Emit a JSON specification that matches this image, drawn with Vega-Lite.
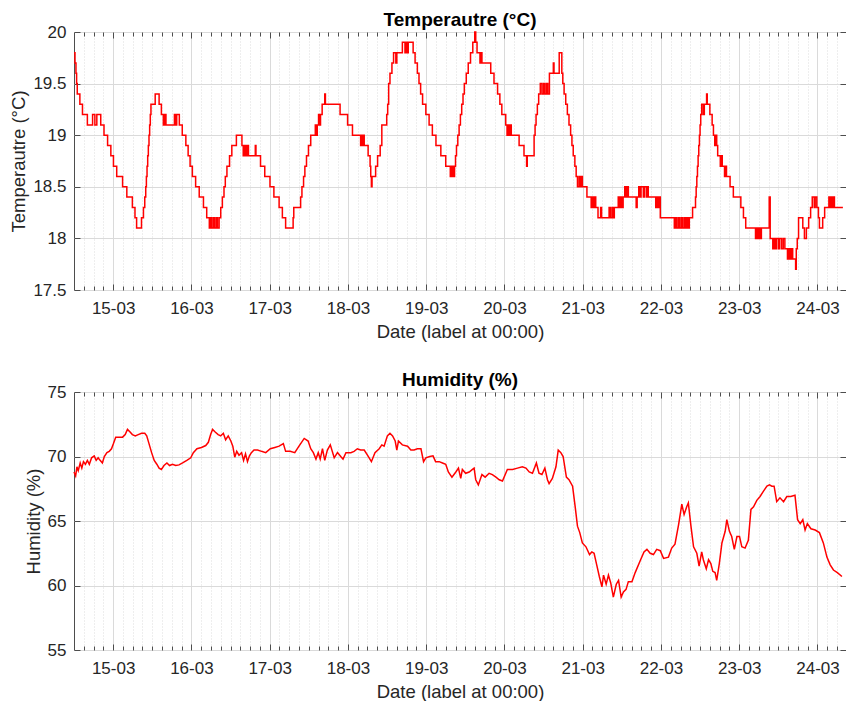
{
  "$schema": "https://vega.github.io/schema/vega-lite/v6.json",
  "background": "white",
  "padding": {"left": 9, "top": 10, "right": 0, "bottom": 0},
  "spacing": 29,
  "config": {
    "font": "Liberation Sans",
    "view": {"stroke": "#4d4d4d", "strokeWidth": 1},
    "axis": {
      "labelColor": "#262626",
      "titleColor": "#262626",
      "labelFontSize": 17,
      "titleFontSize": 18.5,
      "titleFontWeight": "normal",
      "domain": false,
      "tickColor": "#4d4d4d",
      "gridColor": "#dadada"
    },
    "title": {"fontSize": 19, "fontWeight": "bold", "color": "#000000", "offset": -7}
  },
  "vconcat": [
    {
      "title": "Temperautre (°C)",
      "width": 772,
      "height": 258,
      "data": {"values": [
      {"t": "2019-03-14T12:00", "v": 19.8}, {"t": "2019-03-14T12:18", "v": 19.7}, {"t": "2019-03-14T12:36", "v": 19.6},
      {"t": "2019-03-14T12:48", "v": 19.5}, {"t": "2019-03-14T13:00", "v": 19.4}, {"t": "2019-03-14T13:48", "v": 19.3},
      {"t": "2019-03-14T14:36", "v": 19.2}, {"t": "2019-03-14T16:06", "v": 19.1}, {"t": "2019-03-14T17:42", "v": 19.2},
      {"t": "2019-03-14T18:24", "v": 19.1}, {"t": "2019-03-14T19:00", "v": 19.2}, {"t": "2019-03-14T20:12", "v": 19.1},
      {"t": "2019-03-14T21:12", "v": 19.0}, {"t": "2019-03-14T22:18", "v": 18.9}, {"t": "2019-03-14T23:18", "v": 18.8},
      {"t": "2019-03-15T00:06", "v": 18.7}, {"t": "2019-03-15T01:06", "v": 18.6}, {"t": "2019-03-15T02:54", "v": 18.5},
      {"t": "2019-03-15T04:12", "v": 18.4}, {"t": "2019-03-15T05:54", "v": 18.3}, {"t": "2019-03-15T06:42", "v": 18.2},
      {"t": "2019-03-15T07:12", "v": 18.1}, {"t": "2019-03-15T08:42", "v": 18.2}, {"t": "2019-03-15T09:18", "v": 18.3},
      {"t": "2019-03-15T09:42", "v": 18.4}, {"t": "2019-03-15T10:00", "v": 18.5}, {"t": "2019-03-15T10:12", "v": 18.6},
      {"t": "2019-03-15T10:24", "v": 18.7}, {"t": "2019-03-15T10:36", "v": 18.8}, {"t": "2019-03-15T10:48", "v": 18.9},
      {"t": "2019-03-15T11:00", "v": 19.0}, {"t": "2019-03-15T11:12", "v": 19.1}, {"t": "2019-03-15T11:24", "v": 19.2},
      {"t": "2019-03-15T11:36", "v": 19.3}, {"t": "2019-03-15T12:54", "v": 19.4}, {"t": "2019-03-15T14:06", "v": 19.3},
      {"t": "2019-03-15T14:48", "v": 19.2}, {"t": "2019-03-15T15:24", "v": 19.1}, {"t": "2019-03-15T15:48", "v": 19.2},
      {"t": "2019-03-15T16:12", "v": 19.1}, {"t": "2019-03-15T18:48", "v": 19.2}, {"t": "2019-03-15T19:12", "v": 19.1},
      {"t": "2019-03-15T19:30", "v": 19.2}, {"t": "2019-03-15T20:18", "v": 19.1}, {"t": "2019-03-15T21:12", "v": 19.0},
      {"t": "2019-03-15T22:18", "v": 18.9}, {"t": "2019-03-15T23:00", "v": 18.8}, {"t": "2019-03-15T23:36", "v": 18.7},
      {"t": "2019-03-16T00:18", "v": 18.6}, {"t": "2019-03-16T01:18", "v": 18.5}, {"t": "2019-03-16T02:24", "v": 18.4},
      {"t": "2019-03-16T03:42", "v": 18.3}, {"t": "2019-03-16T04:42", "v": 18.2}, {"t": "2019-03-16T05:30", "v": 18.1},
      {"t": "2019-03-16T05:54", "v": 18.2}, {"t": "2019-03-16T06:18", "v": 18.1}, {"t": "2019-03-16T06:48", "v": 18.2},
      {"t": "2019-03-16T07:12", "v": 18.1}, {"t": "2019-03-16T07:42", "v": 18.2}, {"t": "2019-03-16T08:00", "v": 18.1},
      {"t": "2019-03-16T08:30", "v": 18.2}, {"t": "2019-03-16T09:00", "v": 18.3}, {"t": "2019-03-16T09:30", "v": 18.4},
      {"t": "2019-03-16T10:00", "v": 18.5}, {"t": "2019-03-16T10:24", "v": 18.6}, {"t": "2019-03-16T10:54", "v": 18.7},
      {"t": "2019-03-16T11:42", "v": 18.8}, {"t": "2019-03-16T12:24", "v": 18.9}, {"t": "2019-03-16T13:48", "v": 19.0},
      {"t": "2019-03-16T15:30", "v": 18.9}, {"t": "2019-03-16T15:54", "v": 18.8}, {"t": "2019-03-16T16:18", "v": 18.9},
      {"t": "2019-03-16T16:42", "v": 18.8}, {"t": "2019-03-16T17:06", "v": 18.9}, {"t": "2019-03-16T17:30", "v": 18.8},
      {"t": "2019-03-16T19:36", "v": 18.9}, {"t": "2019-03-16T19:48", "v": 18.8}, {"t": "2019-03-16T21:12", "v": 18.7},
      {"t": "2019-03-16T22:30", "v": 18.6}, {"t": "2019-03-17T00:06", "v": 18.5}, {"t": "2019-03-17T01:18", "v": 18.4},
      {"t": "2019-03-17T02:54", "v": 18.3}, {"t": "2019-03-17T03:54", "v": 18.2}, {"t": "2019-03-17T04:54", "v": 18.1},
      {"t": "2019-03-17T07:12", "v": 18.2}, {"t": "2019-03-17T07:24", "v": 18.3}, {"t": "2019-03-17T09:30", "v": 18.4},
      {"t": "2019-03-17T09:54", "v": 18.5}, {"t": "2019-03-17T10:24", "v": 18.6}, {"t": "2019-03-17T10:48", "v": 18.7},
      {"t": "2019-03-17T11:18", "v": 18.8}, {"t": "2019-03-17T11:54", "v": 18.9}, {"t": "2019-03-17T12:36", "v": 19.0},
      {"t": "2019-03-17T14:00", "v": 19.1}, {"t": "2019-03-17T14:18", "v": 19.0}, {"t": "2019-03-17T14:36", "v": 19.1},
      {"t": "2019-03-17T15:00", "v": 19.2}, {"t": "2019-03-17T15:18", "v": 19.1}, {"t": "2019-03-17T15:36", "v": 19.2},
      {"t": "2019-03-17T16:06", "v": 19.3}, {"t": "2019-03-17T16:54", "v": 19.4}, {"t": "2019-03-17T17:06", "v": 19.3},
      {"t": "2019-03-17T21:36", "v": 19.2}, {"t": "2019-03-17T23:54", "v": 19.1}, {"t": "2019-03-18T01:24", "v": 19.0},
      {"t": "2019-03-18T03:54", "v": 18.9}, {"t": "2019-03-18T04:12", "v": 19.0}, {"t": "2019-03-18T04:30", "v": 18.9},
      {"t": "2019-03-18T04:48", "v": 19.0}, {"t": "2019-03-18T05:00", "v": 18.9}, {"t": "2019-03-18T06:12", "v": 18.8},
      {"t": "2019-03-18T06:48", "v": 18.7}, {"t": "2019-03-18T07:00", "v": 18.6}, {"t": "2019-03-18T07:12", "v": 18.5},
      {"t": "2019-03-18T07:24", "v": 18.6}, {"t": "2019-03-18T08:30", "v": 18.7}, {"t": "2019-03-18T09:06", "v": 18.8},
      {"t": "2019-03-18T09:54", "v": 18.9}, {"t": "2019-03-18T10:24", "v": 19.1}, {"t": "2019-03-18T11:54", "v": 19.2},
      {"t": "2019-03-18T12:12", "v": 19.3}, {"t": "2019-03-18T12:30", "v": 19.5}, {"t": "2019-03-18T12:54", "v": 19.6},
      {"t": "2019-03-18T13:30", "v": 19.7}, {"t": "2019-03-18T14:00", "v": 19.8}, {"t": "2019-03-18T14:42", "v": 19.7},
      {"t": "2019-03-18T15:00", "v": 19.8}, {"t": "2019-03-18T16:42", "v": 19.9}, {"t": "2019-03-18T17:30", "v": 19.8},
      {"t": "2019-03-18T17:48", "v": 19.9}, {"t": "2019-03-18T18:12", "v": 19.8}, {"t": "2019-03-18T18:30", "v": 19.9},
      {"t": "2019-03-18T20:00", "v": 19.8}, {"t": "2019-03-18T20:36", "v": 19.7}, {"t": "2019-03-18T21:18", "v": 19.6},
      {"t": "2019-03-18T21:48", "v": 19.5}, {"t": "2019-03-18T22:18", "v": 19.4}, {"t": "2019-03-18T22:54", "v": 19.3},
      {"t": "2019-03-18T23:54", "v": 19.2}, {"t": "2019-03-19T00:54", "v": 19.1}, {"t": "2019-03-19T01:54", "v": 19.0},
      {"t": "2019-03-19T03:00", "v": 18.9}, {"t": "2019-03-19T04:30", "v": 18.8}, {"t": "2019-03-19T06:00", "v": 18.7},
      {"t": "2019-03-19T07:24", "v": 18.6}, {"t": "2019-03-19T07:42", "v": 18.7}, {"t": "2019-03-19T07:54", "v": 18.6},
      {"t": "2019-03-19T08:12", "v": 18.7}, {"t": "2019-03-19T08:30", "v": 18.6}, {"t": "2019-03-19T08:42", "v": 18.7},
      {"t": "2019-03-19T09:00", "v": 18.8}, {"t": "2019-03-19T09:18", "v": 18.9}, {"t": "2019-03-19T09:42", "v": 19.0},
      {"t": "2019-03-19T10:06", "v": 19.1}, {"t": "2019-03-19T10:30", "v": 19.2}, {"t": "2019-03-19T10:54", "v": 19.3},
      {"t": "2019-03-19T11:18", "v": 19.4}, {"t": "2019-03-19T11:42", "v": 19.5}, {"t": "2019-03-19T12:18", "v": 19.6},
      {"t": "2019-03-19T12:54", "v": 19.7}, {"t": "2019-03-19T13:36", "v": 19.8}, {"t": "2019-03-19T14:18", "v": 19.9},
      {"t": "2019-03-19T14:54", "v": 20.0}, {"t": "2019-03-19T15:12", "v": 19.9}, {"t": "2019-03-19T15:36", "v": 19.8},
      {"t": "2019-03-19T16:30", "v": 19.7}, {"t": "2019-03-19T16:48", "v": 19.8}, {"t": "2019-03-19T17:06", "v": 19.7},
      {"t": "2019-03-19T19:48", "v": 19.6}, {"t": "2019-03-19T20:48", "v": 19.5}, {"t": "2019-03-19T21:54", "v": 19.4},
      {"t": "2019-03-19T22:36", "v": 19.3}, {"t": "2019-03-19T23:12", "v": 19.2}, {"t": "2019-03-20T00:24", "v": 19.1},
      {"t": "2019-03-20T00:48", "v": 19.0}, {"t": "2019-03-20T01:06", "v": 19.1}, {"t": "2019-03-20T01:30", "v": 19.0},
      {"t": "2019-03-20T01:48", "v": 19.1}, {"t": "2019-03-20T02:06", "v": 19.0}, {"t": "2019-03-20T04:30", "v": 18.9},
      {"t": "2019-03-20T06:00", "v": 18.8}, {"t": "2019-03-20T06:48", "v": 18.7}, {"t": "2019-03-20T07:00", "v": 18.8},
      {"t": "2019-03-20T09:06", "v": 19.0}, {"t": "2019-03-20T09:24", "v": 19.1}, {"t": "2019-03-20T09:42", "v": 19.2},
      {"t": "2019-03-20T10:06", "v": 19.3}, {"t": "2019-03-20T10:30", "v": 19.4}, {"t": "2019-03-20T11:00", "v": 19.5},
      {"t": "2019-03-20T11:30", "v": 19.4}, {"t": "2019-03-20T12:00", "v": 19.5}, {"t": "2019-03-20T12:24", "v": 19.4},
      {"t": "2019-03-20T12:54", "v": 19.5}, {"t": "2019-03-20T13:18", "v": 19.4}, {"t": "2019-03-20T13:48", "v": 19.6},
      {"t": "2019-03-20T15:00", "v": 19.7}, {"t": "2019-03-20T15:12", "v": 19.6}, {"t": "2019-03-20T16:48", "v": 19.8},
      {"t": "2019-03-20T17:36", "v": 19.6}, {"t": "2019-03-20T17:54", "v": 19.5}, {"t": "2019-03-20T18:18", "v": 19.4},
      {"t": "2019-03-20T18:48", "v": 19.3}, {"t": "2019-03-20T19:18", "v": 19.2}, {"t": "2019-03-20T19:48", "v": 19.1},
      {"t": "2019-03-20T20:18", "v": 19.0}, {"t": "2019-03-20T20:42", "v": 18.9}, {"t": "2019-03-20T21:06", "v": 18.8},
      {"t": "2019-03-20T21:36", "v": 18.7}, {"t": "2019-03-20T22:00", "v": 18.6}, {"t": "2019-03-20T22:24", "v": 18.5},
      {"t": "2019-03-20T22:54", "v": 18.6}, {"t": "2019-03-20T23:18", "v": 18.5}, {"t": "2019-03-20T23:36", "v": 18.6},
      {"t": "2019-03-20T23:54", "v": 18.5}, {"t": "2019-03-21T01:18", "v": 18.4}, {"t": "2019-03-21T02:36", "v": 18.3},
      {"t": "2019-03-21T02:54", "v": 18.4}, {"t": "2019-03-21T03:18", "v": 18.3}, {"t": "2019-03-21T03:36", "v": 18.4},
      {"t": "2019-03-21T04:00", "v": 18.3}, {"t": "2019-03-21T04:42", "v": 18.2}, {"t": "2019-03-21T05:30", "v": 18.3},
      {"t": "2019-03-21T05:48", "v": 18.2}, {"t": "2019-03-21T08:06", "v": 18.3}, {"t": "2019-03-21T08:30", "v": 18.2},
      {"t": "2019-03-21T09:00", "v": 18.3}, {"t": "2019-03-21T09:18", "v": 18.2}, {"t": "2019-03-21T09:42", "v": 18.3},
      {"t": "2019-03-21T10:54", "v": 18.4}, {"t": "2019-03-21T11:12", "v": 18.3}, {"t": "2019-03-21T11:36", "v": 18.4},
      {"t": "2019-03-21T12:00", "v": 18.3}, {"t": "2019-03-21T12:24", "v": 18.4}, {"t": "2019-03-21T12:54", "v": 18.5},
      {"t": "2019-03-21T13:18", "v": 18.4}, {"t": "2019-03-21T13:36", "v": 18.5}, {"t": "2019-03-21T14:00", "v": 18.4},
      {"t": "2019-03-21T16:24", "v": 18.3}, {"t": "2019-03-21T16:42", "v": 18.4}, {"t": "2019-03-21T17:12", "v": 18.5},
      {"t": "2019-03-21T17:36", "v": 18.4}, {"t": "2019-03-21T17:54", "v": 18.5}, {"t": "2019-03-21T18:36", "v": 18.4},
      {"t": "2019-03-21T18:54", "v": 18.5}, {"t": "2019-03-21T19:30", "v": 18.4}, {"t": "2019-03-21T19:42", "v": 18.5},
      {"t": "2019-03-21T20:06", "v": 18.4}, {"t": "2019-03-21T22:24", "v": 18.3}, {"t": "2019-03-21T22:42", "v": 18.4},
      {"t": "2019-03-21T23:06", "v": 18.3}, {"t": "2019-03-21T23:30", "v": 18.4}, {"t": "2019-03-21T23:48", "v": 18.2},
      {"t": "2019-03-22T04:06", "v": 18.1}, {"t": "2019-03-22T04:30", "v": 18.2}, {"t": "2019-03-22T04:54", "v": 18.1},
      {"t": "2019-03-22T05:24", "v": 18.2}, {"t": "2019-03-22T05:48", "v": 18.1}, {"t": "2019-03-22T06:18", "v": 18.2},
      {"t": "2019-03-22T06:42", "v": 18.1}, {"t": "2019-03-22T07:12", "v": 18.2}, {"t": "2019-03-22T07:36", "v": 18.1},
      {"t": "2019-03-22T08:00", "v": 18.2}, {"t": "2019-03-22T08:24", "v": 18.1}, {"t": "2019-03-22T08:42", "v": 18.2},
      {"t": "2019-03-22T09:42", "v": 18.3}, {"t": "2019-03-22T10:36", "v": 18.4}, {"t": "2019-03-22T10:48", "v": 18.5},
      {"t": "2019-03-22T11:00", "v": 18.6}, {"t": "2019-03-22T11:12", "v": 18.7}, {"t": "2019-03-22T11:24", "v": 18.8},
      {"t": "2019-03-22T11:36", "v": 18.9}, {"t": "2019-03-22T11:48", "v": 19.0}, {"t": "2019-03-22T12:00", "v": 19.1},
      {"t": "2019-03-22T12:12", "v": 19.2}, {"t": "2019-03-22T12:30", "v": 19.3}, {"t": "2019-03-22T13:00", "v": 19.2},
      {"t": "2019-03-22T13:18", "v": 19.3}, {"t": "2019-03-22T14:00", "v": 19.4}, {"t": "2019-03-22T14:12", "v": 19.3},
      {"t": "2019-03-22T15:00", "v": 19.2}, {"t": "2019-03-22T15:42", "v": 19.1}, {"t": "2019-03-22T16:06", "v": 19.0},
      {"t": "2019-03-22T16:30", "v": 18.9}, {"t": "2019-03-22T16:48", "v": 19.0}, {"t": "2019-03-22T17:06", "v": 18.9},
      {"t": "2019-03-22T17:24", "v": 18.8}, {"t": "2019-03-22T18:12", "v": 18.7}, {"t": "2019-03-22T18:30", "v": 18.8},
      {"t": "2019-03-22T18:48", "v": 18.7}, {"t": "2019-03-22T19:30", "v": 18.6}, {"t": "2019-03-22T19:48", "v": 18.7},
      {"t": "2019-03-22T20:06", "v": 18.6}, {"t": "2019-03-22T21:12", "v": 18.5}, {"t": "2019-03-22T22:12", "v": 18.4},
      {"t": "2019-03-23T00:30", "v": 18.3}, {"t": "2019-03-23T01:18", "v": 18.2}, {"t": "2019-03-23T02:00", "v": 18.1},
      {"t": "2019-03-23T05:00", "v": 18.0}, {"t": "2019-03-23T05:18", "v": 18.1}, {"t": "2019-03-23T05:42", "v": 18.0},
      {"t": "2019-03-23T06:00", "v": 18.1}, {"t": "2019-03-23T06:24", "v": 18.0}, {"t": "2019-03-23T06:48", "v": 18.1},
      {"t": "2019-03-23T09:12", "v": 18.4}, {"t": "2019-03-23T09:30", "v": 18.0}, {"t": "2019-03-23T10:18", "v": 17.9},
      {"t": "2019-03-23T10:36", "v": 18.0}, {"t": "2019-03-23T11:00", "v": 17.9}, {"t": "2019-03-23T11:24", "v": 18.0},
      {"t": "2019-03-23T12:00", "v": 17.9}, {"t": "2019-03-23T12:24", "v": 18.0}, {"t": "2019-03-23T13:00", "v": 17.9},
      {"t": "2019-03-23T13:30", "v": 18.0}, {"t": "2019-03-23T14:00", "v": 17.9}, {"t": "2019-03-23T14:48", "v": 17.8},
      {"t": "2019-03-23T15:12", "v": 17.9}, {"t": "2019-03-23T15:36", "v": 17.8}, {"t": "2019-03-23T16:00", "v": 17.9},
      {"t": "2019-03-23T16:24", "v": 17.8}, {"t": "2019-03-23T17:18", "v": 17.7}, {"t": "2019-03-23T17:30", "v": 17.9},
      {"t": "2019-03-23T17:48", "v": 18.0}, {"t": "2019-03-23T18:12", "v": 18.2}, {"t": "2019-03-23T19:30", "v": 18.1},
      {"t": "2019-03-23T20:00", "v": 18.0}, {"t": "2019-03-23T20:36", "v": 18.1}, {"t": "2019-03-23T21:18", "v": 18.2},
      {"t": "2019-03-23T21:54", "v": 18.3}, {"t": "2019-03-23T22:24", "v": 18.4}, {"t": "2019-03-23T23:00", "v": 18.3},
      {"t": "2019-03-23T23:18", "v": 18.4}, {"t": "2019-03-23T23:48", "v": 18.3}, {"t": "2019-03-24T00:18", "v": 18.2},
      {"t": "2019-03-24T00:36", "v": 18.1}, {"t": "2019-03-24T01:36", "v": 18.2}, {"t": "2019-03-24T02:12", "v": 18.3},
      {"t": "2019-03-24T03:30", "v": 18.4}, {"t": "2019-03-24T03:54", "v": 18.3}, {"t": "2019-03-24T04:12", "v": 18.4},
      {"t": "2019-03-24T04:36", "v": 18.3}, {"t": "2019-03-24T04:54", "v": 18.4}, {"t": "2019-03-24T05:12", "v": 18.3},
      {"t": "2019-03-24T07:48", "v": 18.3}
      ]},
      "layer": [
        {
          "mark": {"type": "line", "strokeOpacity": 0},
          "encoding": {
            "x": {"field": "t", "type": "temporal",
              "scale": {"domain": [{"year": 2019, "month": 3, "date": 14, "hours": 12}, {"year": 2019, "month": 3, "date": 24, "hours": 8, "minutes": 45}]},
              "axis": {"orient": "bottom", "labels": false, "tickSize": -4, "grid": true, "gridColor": "#dcdcdc", "gridDash": [1, 2], "title": null,
                "values": [
                  {"year": 2019, "month": 3, "date": 14, "hours": 15}, {"year": 2019, "month": 3, "date": 14, "hours": 18}, {"year": 2019, "month": 3, "date": 14, "hours": 21},
                  {"year": 2019, "month": 3, "date": 15, "hours": 3}, {"year": 2019, "month": 3, "date": 15, "hours": 6}, {"year": 2019, "month": 3, "date": 15, "hours": 9}, {"year": 2019, "month": 3, "date": 15, "hours": 12}, {"year": 2019, "month": 3, "date": 15, "hours": 15}, {"year": 2019, "month": 3, "date": 15, "hours": 18}, {"year": 2019, "month": 3, "date": 15, "hours": 21},
                  {"year": 2019, "month": 3, "date": 16, "hours": 3}, {"year": 2019, "month": 3, "date": 16, "hours": 6}, {"year": 2019, "month": 3, "date": 16, "hours": 9}, {"year": 2019, "month": 3, "date": 16, "hours": 12}, {"year": 2019, "month": 3, "date": 16, "hours": 15}, {"year": 2019, "month": 3, "date": 16, "hours": 18}, {"year": 2019, "month": 3, "date": 16, "hours": 21},
                  {"year": 2019, "month": 3, "date": 17, "hours": 3}, {"year": 2019, "month": 3, "date": 17, "hours": 6}, {"year": 2019, "month": 3, "date": 17, "hours": 9}, {"year": 2019, "month": 3, "date": 17, "hours": 12}, {"year": 2019, "month": 3, "date": 17, "hours": 15}, {"year": 2019, "month": 3, "date": 17, "hours": 18}, {"year": 2019, "month": 3, "date": 17, "hours": 21},
                  {"year": 2019, "month": 3, "date": 18, "hours": 3}, {"year": 2019, "month": 3, "date": 18, "hours": 6}, {"year": 2019, "month": 3, "date": 18, "hours": 9}, {"year": 2019, "month": 3, "date": 18, "hours": 12}, {"year": 2019, "month": 3, "date": 18, "hours": 15}, {"year": 2019, "month": 3, "date": 18, "hours": 18}, {"year": 2019, "month": 3, "date": 18, "hours": 21},
                  {"year": 2019, "month": 3, "date": 19, "hours": 3}, {"year": 2019, "month": 3, "date": 19, "hours": 6}, {"year": 2019, "month": 3, "date": 19, "hours": 9}, {"year": 2019, "month": 3, "date": 19, "hours": 12}, {"year": 2019, "month": 3, "date": 19, "hours": 15}, {"year": 2019, "month": 3, "date": 19, "hours": 18}, {"year": 2019, "month": 3, "date": 19, "hours": 21},
                  {"year": 2019, "month": 3, "date": 20, "hours": 3}, {"year": 2019, "month": 3, "date": 20, "hours": 6}, {"year": 2019, "month": 3, "date": 20, "hours": 9}, {"year": 2019, "month": 3, "date": 20, "hours": 12}, {"year": 2019, "month": 3, "date": 20, "hours": 15}, {"year": 2019, "month": 3, "date": 20, "hours": 18}, {"year": 2019, "month": 3, "date": 20, "hours": 21},
                  {"year": 2019, "month": 3, "date": 21, "hours": 3}, {"year": 2019, "month": 3, "date": 21, "hours": 6}, {"year": 2019, "month": 3, "date": 21, "hours": 9}, {"year": 2019, "month": 3, "date": 21, "hours": 12}, {"year": 2019, "month": 3, "date": 21, "hours": 15}, {"year": 2019, "month": 3, "date": 21, "hours": 18}, {"year": 2019, "month": 3, "date": 21, "hours": 21},
                  {"year": 2019, "month": 3, "date": 22, "hours": 3}, {"year": 2019, "month": 3, "date": 22, "hours": 6}, {"year": 2019, "month": 3, "date": 22, "hours": 9}, {"year": 2019, "month": 3, "date": 22, "hours": 12}, {"year": 2019, "month": 3, "date": 22, "hours": 15}, {"year": 2019, "month": 3, "date": 22, "hours": 18}, {"year": 2019, "month": 3, "date": 22, "hours": 21},
                  {"year": 2019, "month": 3, "date": 23, "hours": 3}, {"year": 2019, "month": 3, "date": 23, "hours": 6}, {"year": 2019, "month": 3, "date": 23, "hours": 9}, {"year": 2019, "month": 3, "date": 23, "hours": 12}, {"year": 2019, "month": 3, "date": 23, "hours": 15}, {"year": 2019, "month": 3, "date": 23, "hours": 18}, {"year": 2019, "month": 3, "date": 23, "hours": 21},
                  {"year": 2019, "month": 3, "date": 24, "hours": 3}, {"year": 2019, "month": 3, "date": 24, "hours": 6}
                ]}},
            "y": {"field": "v", "type": "quantitative", "scale": {"domain": [17.5, 20], "zero": false},
              "axis": {"orient": "right", "values": [17.5, 18, 18.5, 19, 19.5, 20], "labels": false, "grid": false, "tickSize": -6, "title": null}}
          }
        },
        {
          "mark": {"type": "line", "strokeOpacity": 0},
          "encoding": {
            "x": {"field": "t", "type": "temporal",
              "scale": {"domain": [{"year": 2019, "month": 3, "date": 14, "hours": 12}, {"year": 2019, "month": 3, "date": 24, "hours": 8, "minutes": 45}]},
              "axis": {"orient": "top", "labels": false, "tickSize": -4, "grid": false, "title": null,
                "values": [
                  {"year": 2019, "month": 3, "date": 14, "hours": 15}, {"year": 2019, "month": 3, "date": 14, "hours": 18}, {"year": 2019, "month": 3, "date": 14, "hours": 21},
                  {"year": 2019, "month": 3, "date": 15, "hours": 3}, {"year": 2019, "month": 3, "date": 15, "hours": 6}, {"year": 2019, "month": 3, "date": 15, "hours": 9}, {"year": 2019, "month": 3, "date": 15, "hours": 12}, {"year": 2019, "month": 3, "date": 15, "hours": 15}, {"year": 2019, "month": 3, "date": 15, "hours": 18}, {"year": 2019, "month": 3, "date": 15, "hours": 21},
                  {"year": 2019, "month": 3, "date": 16, "hours": 3}, {"year": 2019, "month": 3, "date": 16, "hours": 6}, {"year": 2019, "month": 3, "date": 16, "hours": 9}, {"year": 2019, "month": 3, "date": 16, "hours": 12}, {"year": 2019, "month": 3, "date": 16, "hours": 15}, {"year": 2019, "month": 3, "date": 16, "hours": 18}, {"year": 2019, "month": 3, "date": 16, "hours": 21},
                  {"year": 2019, "month": 3, "date": 17, "hours": 3}, {"year": 2019, "month": 3, "date": 17, "hours": 6}, {"year": 2019, "month": 3, "date": 17, "hours": 9}, {"year": 2019, "month": 3, "date": 17, "hours": 12}, {"year": 2019, "month": 3, "date": 17, "hours": 15}, {"year": 2019, "month": 3, "date": 17, "hours": 18}, {"year": 2019, "month": 3, "date": 17, "hours": 21},
                  {"year": 2019, "month": 3, "date": 18, "hours": 3}, {"year": 2019, "month": 3, "date": 18, "hours": 6}, {"year": 2019, "month": 3, "date": 18, "hours": 9}, {"year": 2019, "month": 3, "date": 18, "hours": 12}, {"year": 2019, "month": 3, "date": 18, "hours": 15}, {"year": 2019, "month": 3, "date": 18, "hours": 18}, {"year": 2019, "month": 3, "date": 18, "hours": 21},
                  {"year": 2019, "month": 3, "date": 19, "hours": 3}, {"year": 2019, "month": 3, "date": 19, "hours": 6}, {"year": 2019, "month": 3, "date": 19, "hours": 9}, {"year": 2019, "month": 3, "date": 19, "hours": 12}, {"year": 2019, "month": 3, "date": 19, "hours": 15}, {"year": 2019, "month": 3, "date": 19, "hours": 18}, {"year": 2019, "month": 3, "date": 19, "hours": 21},
                  {"year": 2019, "month": 3, "date": 20, "hours": 3}, {"year": 2019, "month": 3, "date": 20, "hours": 6}, {"year": 2019, "month": 3, "date": 20, "hours": 9}, {"year": 2019, "month": 3, "date": 20, "hours": 12}, {"year": 2019, "month": 3, "date": 20, "hours": 15}, {"year": 2019, "month": 3, "date": 20, "hours": 18}, {"year": 2019, "month": 3, "date": 20, "hours": 21},
                  {"year": 2019, "month": 3, "date": 21, "hours": 3}, {"year": 2019, "month": 3, "date": 21, "hours": 6}, {"year": 2019, "month": 3, "date": 21, "hours": 9}, {"year": 2019, "month": 3, "date": 21, "hours": 12}, {"year": 2019, "month": 3, "date": 21, "hours": 15}, {"year": 2019, "month": 3, "date": 21, "hours": 18}, {"year": 2019, "month": 3, "date": 21, "hours": 21},
                  {"year": 2019, "month": 3, "date": 22, "hours": 3}, {"year": 2019, "month": 3, "date": 22, "hours": 6}, {"year": 2019, "month": 3, "date": 22, "hours": 9}, {"year": 2019, "month": 3, "date": 22, "hours": 12}, {"year": 2019, "month": 3, "date": 22, "hours": 15}, {"year": 2019, "month": 3, "date": 22, "hours": 18}, {"year": 2019, "month": 3, "date": 22, "hours": 21},
                  {"year": 2019, "month": 3, "date": 23, "hours": 3}, {"year": 2019, "month": 3, "date": 23, "hours": 6}, {"year": 2019, "month": 3, "date": 23, "hours": 9}, {"year": 2019, "month": 3, "date": 23, "hours": 12}, {"year": 2019, "month": 3, "date": 23, "hours": 15}, {"year": 2019, "month": 3, "date": 23, "hours": 18}, {"year": 2019, "month": 3, "date": 23, "hours": 21},
                  {"year": 2019, "month": 3, "date": 24, "hours": 3}, {"year": 2019, "month": 3, "date": 24, "hours": 6}
                ]}},
            "y": {"field": "v", "type": "quantitative", "scale": {"domain": [17.5, 20], "zero": false}, "axis": null}
          }
        },
        {
          "mark": {"type": "line", "strokeOpacity": 0},
          "encoding": {
            "x": {"field": "t", "type": "temporal",
              "scale": {"domain": [{"year": 2019, "month": 3, "date": 14, "hours": 12}, {"year": 2019, "month": 3, "date": 24, "hours": 8, "minutes": 45}]},
              "axis": {"orient": "top", "labels": false, "tickSize": -6, "grid": false, "title": null,
                "values": [
                  {"year": 2019, "month": 3, "date": 15}, {"year": 2019, "month": 3, "date": 16}, {"year": 2019, "month": 3, "date": 17}, {"year": 2019, "month": 3, "date": 18}, {"year": 2019, "month": 3, "date": 19},
                  {"year": 2019, "month": 3, "date": 20}, {"year": 2019, "month": 3, "date": 21}, {"year": 2019, "month": 3, "date": 22}, {"year": 2019, "month": 3, "date": 23}, {"year": 2019, "month": 3, "date": 24}
                ]}},
            "y": {"field": "v", "type": "quantitative", "scale": {"domain": [17.5, 20], "zero": false}, "axis": null}
          }
        },
        {
          "mark": {"type": "line", "color": "#ff0000", "strokeWidth": 1.5, "interpolate": "step-after"},
          "encoding": {
            "x": {"field": "t", "type": "temporal",
              "scale": {"domain": [{"year": 2019, "month": 3, "date": 14, "hours": 12}, {"year": 2019, "month": 3, "date": 24, "hours": 8, "minutes": 45}]},
              "axis": {"orient": "bottom", "format": "%d-%m", "tickSize": -6, "grid": true, "gridColor": "#dadada", "labelPadding": 16, "title": "Date (label at 00:00)", "titlePadding": 6,
                "values": [
                  {"year": 2019, "month": 3, "date": 15}, {"year": 2019, "month": 3, "date": 16}, {"year": 2019, "month": 3, "date": 17}, {"year": 2019, "month": 3, "date": 18}, {"year": 2019, "month": 3, "date": 19},
                  {"year": 2019, "month": 3, "date": 20}, {"year": 2019, "month": 3, "date": 21}, {"year": 2019, "month": 3, "date": 22}, {"year": 2019, "month": 3, "date": 23}, {"year": 2019, "month": 3, "date": 24}
                ]}},
            "y": {"field": "v", "type": "quantitative", "scale": {"domain": [17.5, 20], "zero": false},
              "axis": {"orient": "left", "values": [17.5, 18, 18.5, 19, 19.5, 20], "labelExpr": "datum.value % 1 === 0 ? format(datum.value, 'd') : format(datum.value, '.1f')", "tickSize": -6, "grid": true, "gridColor": "#dadada", "labelPadding": 14, "title": "Temperautre (°C)", "titlePadding": 4}}
          }
        }
      ],
      "resolve": {"axis": {"x": "independent", "y": "independent"}}
    },
    {
      "title": "Humidity (%)",
      "width": 772,
      "height": 258,
      "data": {"values": [
      {"t": "2019-03-14T12:00", "v": 68.8}, {"t": "2019-03-14T12:30", "v": 68.5}, {"t": "2019-03-14T12:54", "v": 69.2},
      {"t": "2019-03-14T13:18", "v": 68.9}, {"t": "2019-03-14T13:54", "v": 69.5}, {"t": "2019-03-14T14:24", "v": 69.1},
      {"t": "2019-03-14T14:54", "v": 69.6}, {"t": "2019-03-14T15:30", "v": 69.4}, {"t": "2019-03-14T16:06", "v": 69.7},
      {"t": "2019-03-14T16:42", "v": 69.4}, {"t": "2019-03-14T17:24", "v": 69.9}, {"t": "2019-03-14T18:12", "v": 70.05},
      {"t": "2019-03-14T18:48", "v": 69.7}, {"t": "2019-03-14T19:24", "v": 69.9}, {"t": "2019-03-14T20:00", "v": 69.7},
      {"t": "2019-03-14T20:42", "v": 69.5}, {"t": "2019-03-14T21:18", "v": 70.0}, {"t": "2019-03-14T22:06", "v": 70.3},
      {"t": "2019-03-14T22:48", "v": 70.4}, {"t": "2019-03-14T23:30", "v": 70.6}, {"t": "2019-03-15T00:06", "v": 71.0},
      {"t": "2019-03-15T00:48", "v": 71.5}, {"t": "2019-03-15T01:48", "v": 71.5}, {"t": "2019-03-15T02:54", "v": 71.5},
      {"t": "2019-03-15T03:42", "v": 71.7}, {"t": "2019-03-15T04:24", "v": 72.1}, {"t": "2019-03-15T05:12", "v": 71.9},
      {"t": "2019-03-15T05:54", "v": 71.7}, {"t": "2019-03-15T06:48", "v": 71.6}, {"t": "2019-03-15T07:42", "v": 71.7},
      {"t": "2019-03-15T08:42", "v": 71.8}, {"t": "2019-03-15T09:42", "v": 71.8}, {"t": "2019-03-15T10:18", "v": 71.6},
      {"t": "2019-03-15T11:00", "v": 71.0}, {"t": "2019-03-15T11:48", "v": 70.3}, {"t": "2019-03-15T12:36", "v": 69.7},
      {"t": "2019-03-15T13:24", "v": 69.4}, {"t": "2019-03-15T14:06", "v": 69.1}, {"t": "2019-03-15T14:48", "v": 69.0},
      {"t": "2019-03-15T15:36", "v": 69.3}, {"t": "2019-03-15T16:30", "v": 69.5}, {"t": "2019-03-15T17:18", "v": 69.3},
      {"t": "2019-03-15T18:12", "v": 69.4}, {"t": "2019-03-15T19:12", "v": 69.3}, {"t": "2019-03-15T20:12", "v": 69.35},
      {"t": "2019-03-15T21:18", "v": 69.5}, {"t": "2019-03-15T22:36", "v": 69.7}, {"t": "2019-03-15T23:48", "v": 69.9},
      {"t": "2019-03-16T00:36", "v": 70.3}, {"t": "2019-03-16T01:42", "v": 70.6}, {"t": "2019-03-16T03:06", "v": 70.7},
      {"t": "2019-03-16T04:24", "v": 70.85}, {"t": "2019-03-16T05:12", "v": 71.1}, {"t": "2019-03-16T05:54", "v": 71.7},
      {"t": "2019-03-16T06:30", "v": 72.1}, {"t": "2019-03-16T07:18", "v": 71.9}, {"t": "2019-03-16T08:12", "v": 71.7},
      {"t": "2019-03-16T09:00", "v": 71.6}, {"t": "2019-03-16T09:48", "v": 71.8}, {"t": "2019-03-16T10:30", "v": 71.3},
      {"t": "2019-03-16T11:18", "v": 71.6}, {"t": "2019-03-16T12:06", "v": 71.2}, {"t": "2019-03-16T12:42", "v": 70.8},
      {"t": "2019-03-16T13:18", "v": 69.95}, {"t": "2019-03-16T13:54", "v": 70.4}, {"t": "2019-03-16T14:36", "v": 70.1},
      {"t": "2019-03-16T15:24", "v": 70.3}, {"t": "2019-03-16T16:00", "v": 69.7}, {"t": "2019-03-16T16:36", "v": 70.2},
      {"t": "2019-03-16T17:12", "v": 69.6}, {"t": "2019-03-16T17:48", "v": 70.05}, {"t": "2019-03-16T18:24", "v": 70.3},
      {"t": "2019-03-16T19:12", "v": 70.5}, {"t": "2019-03-16T20:18", "v": 70.5}, {"t": "2019-03-16T21:30", "v": 70.4},
      {"t": "2019-03-16T22:48", "v": 70.3}, {"t": "2019-03-17T00:12", "v": 70.6}, {"t": "2019-03-17T01:36", "v": 70.7},
      {"t": "2019-03-17T02:54", "v": 70.8}, {"t": "2019-03-17T04:12", "v": 71.0}, {"t": "2019-03-17T04:54", "v": 70.4},
      {"t": "2019-03-17T06:18", "v": 70.4}, {"t": "2019-03-17T07:42", "v": 70.3}, {"t": "2019-03-17T09:00", "v": 70.8},
      {"t": "2019-03-17T10:36", "v": 71.4}, {"t": "2019-03-17T11:48", "v": 71.2}, {"t": "2019-03-17T12:36", "v": 70.6},
      {"t": "2019-03-17T13:24", "v": 70.3}, {"t": "2019-03-17T14:12", "v": 69.8}, {"t": "2019-03-17T14:54", "v": 70.3},
      {"t": "2019-03-17T15:30", "v": 69.8}, {"t": "2019-03-17T16:12", "v": 70.6}, {"t": "2019-03-17T16:54", "v": 69.7},
      {"t": "2019-03-17T17:42", "v": 70.5}, {"t": "2019-03-17T18:36", "v": 70.9}, {"t": "2019-03-17T19:48", "v": 69.9},
      {"t": "2019-03-17T20:48", "v": 70.3}, {"t": "2019-03-17T21:48", "v": 70.0}, {"t": "2019-03-17T22:30", "v": 69.8},
      {"t": "2019-03-17T23:24", "v": 70.3}, {"t": "2019-03-18T00:54", "v": 70.3}, {"t": "2019-03-18T01:54", "v": 70.4},
      {"t": "2019-03-18T02:54", "v": 70.6}, {"t": "2019-03-18T03:54", "v": 70.5}, {"t": "2019-03-18T05:00", "v": 70.5},
      {"t": "2019-03-18T06:00", "v": 70.1}, {"t": "2019-03-18T07:12", "v": 69.6}, {"t": "2019-03-18T08:18", "v": 70.3},
      {"t": "2019-03-18T09:36", "v": 70.6}, {"t": "2019-03-18T10:24", "v": 70.9}, {"t": "2019-03-18T11:06", "v": 70.8},
      {"t": "2019-03-18T12:06", "v": 71.6}, {"t": "2019-03-18T12:54", "v": 71.8}, {"t": "2019-03-18T13:42", "v": 71.6},
      {"t": "2019-03-18T14:30", "v": 71.2}, {"t": "2019-03-18T15:00", "v": 70.5}, {"t": "2019-03-18T15:30", "v": 71.2},
      {"t": "2019-03-18T16:42", "v": 70.9}, {"t": "2019-03-18T18:18", "v": 70.8}, {"t": "2019-03-18T19:18", "v": 70.5},
      {"t": "2019-03-18T20:18", "v": 70.5}, {"t": "2019-03-18T21:18", "v": 70.6}, {"t": "2019-03-18T22:24", "v": 70.6},
      {"t": "2019-03-18T23:12", "v": 69.6}, {"t": "2019-03-18T23:54", "v": 69.9}, {"t": "2019-03-19T01:06", "v": 70.0},
      {"t": "2019-03-19T02:06", "v": 70.05}, {"t": "2019-03-19T02:54", "v": 69.6}, {"t": "2019-03-19T04:00", "v": 69.6},
      {"t": "2019-03-19T05:00", "v": 69.5}, {"t": "2019-03-19T06:00", "v": 69.4}, {"t": "2019-03-19T06:48", "v": 68.8},
      {"t": "2019-03-19T07:54", "v": 68.4}, {"t": "2019-03-19T09:06", "v": 68.8}, {"t": "2019-03-19T09:54", "v": 69.1},
      {"t": "2019-03-19T10:36", "v": 68.3}, {"t": "2019-03-19T11:06", "v": 69.0}, {"t": "2019-03-19T12:06", "v": 68.7},
      {"t": "2019-03-19T13:12", "v": 68.8}, {"t": "2019-03-19T14:12", "v": 69.0}, {"t": "2019-03-19T14:42", "v": 69.1},
      {"t": "2019-03-19T15:12", "v": 68.2}, {"t": "2019-03-19T16:00", "v": 67.8}, {"t": "2019-03-19T17:06", "v": 68.6},
      {"t": "2019-03-19T18:06", "v": 68.4}, {"t": "2019-03-19T19:18", "v": 68.7}, {"t": "2019-03-19T20:18", "v": 68.6},
      {"t": "2019-03-19T21:24", "v": 68.4}, {"t": "2019-03-19T22:24", "v": 68.2}, {"t": "2019-03-19T23:24", "v": 68.1},
      {"t": "2019-03-20T00:54", "v": 69.0}, {"t": "2019-03-20T02:30", "v": 69.0}, {"t": "2019-03-20T04:00", "v": 69.1},
      {"t": "2019-03-20T05:30", "v": 69.2}, {"t": "2019-03-20T06:36", "v": 69.1}, {"t": "2019-03-20T07:36", "v": 68.8},
      {"t": "2019-03-20T08:36", "v": 68.7}, {"t": "2019-03-20T09:48", "v": 69.5}, {"t": "2019-03-20T10:36", "v": 68.7},
      {"t": "2019-03-20T11:30", "v": 68.6}, {"t": "2019-03-20T12:24", "v": 69.1}, {"t": "2019-03-20T13:12", "v": 68.2},
      {"t": "2019-03-20T13:42", "v": 67.9}, {"t": "2019-03-20T14:42", "v": 68.3}, {"t": "2019-03-20T15:48", "v": 69.2},
      {"t": "2019-03-20T16:30", "v": 70.5}, {"t": "2019-03-20T17:18", "v": 70.3}, {"t": "2019-03-20T18:00", "v": 70.0},
      {"t": "2019-03-20T19:00", "v": 68.4}, {"t": "2019-03-20T19:48", "v": 68.2}, {"t": "2019-03-20T20:54", "v": 67.7},
      {"t": "2019-03-20T21:42", "v": 66.1}, {"t": "2019-03-20T22:24", "v": 64.6}, {"t": "2019-03-20T23:06", "v": 64.1},
      {"t": "2019-03-20T23:54", "v": 63.3}, {"t": "2019-03-21T01:00", "v": 63.0}, {"t": "2019-03-21T02:06", "v": 62.4},
      {"t": "2019-03-21T02:48", "v": 62.6}, {"t": "2019-03-21T03:30", "v": 62.5}, {"t": "2019-03-21T04:18", "v": 61.6},
      {"t": "2019-03-21T05:06", "v": 60.7}, {"t": "2019-03-21T05:54", "v": 59.9}, {"t": "2019-03-21T06:24", "v": 60.8},
      {"t": "2019-03-21T07:12", "v": 60.1}, {"t": "2019-03-21T07:54", "v": 60.8}, {"t": "2019-03-21T08:36", "v": 60.2},
      {"t": "2019-03-21T09:24", "v": 59.1}, {"t": "2019-03-21T10:18", "v": 60.1}, {"t": "2019-03-21T11:00", "v": 60.4},
      {"t": "2019-03-21T11:48", "v": 59.1}, {"t": "2019-03-21T12:30", "v": 59.5}, {"t": "2019-03-21T13:18", "v": 59.7},
      {"t": "2019-03-21T14:00", "v": 60.3}, {"t": "2019-03-21T15:06", "v": 60.3}, {"t": "2019-03-21T16:06", "v": 61.0},
      {"t": "2019-03-21T17:36", "v": 61.9}, {"t": "2019-03-21T18:48", "v": 62.6}, {"t": "2019-03-21T19:42", "v": 62.8},
      {"t": "2019-03-21T20:42", "v": 62.5}, {"t": "2019-03-21T21:42", "v": 62.4}, {"t": "2019-03-21T22:42", "v": 62.8},
      {"t": "2019-03-21T23:48", "v": 62.7}, {"t": "2019-03-22T00:48", "v": 62.1}, {"t": "2019-03-22T02:18", "v": 62.2},
      {"t": "2019-03-22T03:18", "v": 62.9}, {"t": "2019-03-22T04:18", "v": 63.2}, {"t": "2019-03-22T05:24", "v": 64.7},
      {"t": "2019-03-22T06:24", "v": 66.3}, {"t": "2019-03-22T07:06", "v": 65.5}, {"t": "2019-03-22T07:54", "v": 66.1},
      {"t": "2019-03-22T08:24", "v": 66.4}, {"t": "2019-03-22T09:12", "v": 64.6}, {"t": "2019-03-22T10:00", "v": 63.0},
      {"t": "2019-03-22T11:00", "v": 62.5}, {"t": "2019-03-22T11:42", "v": 61.5}, {"t": "2019-03-22T12:30", "v": 62.6},
      {"t": "2019-03-22T13:00", "v": 62.0}, {"t": "2019-03-22T13:54", "v": 61.3}, {"t": "2019-03-22T14:36", "v": 62.0},
      {"t": "2019-03-22T15:18", "v": 61.7}, {"t": "2019-03-22T15:54", "v": 61.1}, {"t": "2019-03-22T16:36", "v": 61.0},
      {"t": "2019-03-22T17:06", "v": 60.4}, {"t": "2019-03-22T17:54", "v": 61.7}, {"t": "2019-03-22T18:42", "v": 63.3},
      {"t": "2019-03-22T19:42", "v": 64.2}, {"t": "2019-03-22T20:12", "v": 65.1}, {"t": "2019-03-22T21:00", "v": 64.2},
      {"t": "2019-03-22T21:42", "v": 63.8}, {"t": "2019-03-22T22:30", "v": 62.8}, {"t": "2019-03-22T23:18", "v": 63.8},
      {"t": "2019-03-23T00:06", "v": 63.8}, {"t": "2019-03-23T00:48", "v": 63.0}, {"t": "2019-03-23T01:48", "v": 62.9},
      {"t": "2019-03-23T02:48", "v": 63.5}, {"t": "2019-03-23T03:36", "v": 65.9}, {"t": "2019-03-23T04:24", "v": 66.1},
      {"t": "2019-03-23T05:24", "v": 66.6}, {"t": "2019-03-23T06:24", "v": 66.9}, {"t": "2019-03-23T07:24", "v": 67.3},
      {"t": "2019-03-23T08:30", "v": 67.7}, {"t": "2019-03-23T09:18", "v": 67.8}, {"t": "2019-03-23T10:00", "v": 67.7},
      {"t": "2019-03-23T10:42", "v": 67.7}, {"t": "2019-03-23T11:30", "v": 66.5}, {"t": "2019-03-23T12:30", "v": 66.8},
      {"t": "2019-03-23T13:36", "v": 66.5}, {"t": "2019-03-23T14:36", "v": 66.9}, {"t": "2019-03-23T15:48", "v": 66.9},
      {"t": "2019-03-23T17:06", "v": 67.0}, {"t": "2019-03-23T17:54", "v": 65.1}, {"t": "2019-03-23T18:42", "v": 64.8},
      {"t": "2019-03-23T19:30", "v": 65.1}, {"t": "2019-03-23T20:12", "v": 64.3}, {"t": "2019-03-23T20:54", "v": 64.8},
      {"t": "2019-03-23T22:00", "v": 64.4}, {"t": "2019-03-23T23:18", "v": 64.3}, {"t": "2019-03-24T00:36", "v": 64.1},
      {"t": "2019-03-24T01:48", "v": 63.3}, {"t": "2019-03-24T02:54", "v": 62.2}, {"t": "2019-03-24T03:54", "v": 61.6},
      {"t": "2019-03-24T04:54", "v": 61.2}, {"t": "2019-03-24T06:06", "v": 61.0}, {"t": "2019-03-24T07:30", "v": 60.7}
      ]},
      "layer": [
        {
          "mark": {"type": "line", "strokeOpacity": 0},
          "encoding": {
            "x": {"field": "t", "type": "temporal",
              "scale": {"domain": [{"year": 2019, "month": 3, "date": 14, "hours": 12}, {"year": 2019, "month": 3, "date": 24, "hours": 8, "minutes": 45}]},
              "axis": {"orient": "bottom", "labels": false, "tickSize": -4, "grid": true, "gridColor": "#dcdcdc", "gridDash": [1, 2], "title": null,
                "values": [
                  {"year": 2019, "month": 3, "date": 14, "hours": 15}, {"year": 2019, "month": 3, "date": 14, "hours": 18}, {"year": 2019, "month": 3, "date": 14, "hours": 21},
                  {"year": 2019, "month": 3, "date": 15, "hours": 3}, {"year": 2019, "month": 3, "date": 15, "hours": 6}, {"year": 2019, "month": 3, "date": 15, "hours": 9}, {"year": 2019, "month": 3, "date": 15, "hours": 12}, {"year": 2019, "month": 3, "date": 15, "hours": 15}, {"year": 2019, "month": 3, "date": 15, "hours": 18}, {"year": 2019, "month": 3, "date": 15, "hours": 21},
                  {"year": 2019, "month": 3, "date": 16, "hours": 3}, {"year": 2019, "month": 3, "date": 16, "hours": 6}, {"year": 2019, "month": 3, "date": 16, "hours": 9}, {"year": 2019, "month": 3, "date": 16, "hours": 12}, {"year": 2019, "month": 3, "date": 16, "hours": 15}, {"year": 2019, "month": 3, "date": 16, "hours": 18}, {"year": 2019, "month": 3, "date": 16, "hours": 21},
                  {"year": 2019, "month": 3, "date": 17, "hours": 3}, {"year": 2019, "month": 3, "date": 17, "hours": 6}, {"year": 2019, "month": 3, "date": 17, "hours": 9}, {"year": 2019, "month": 3, "date": 17, "hours": 12}, {"year": 2019, "month": 3, "date": 17, "hours": 15}, {"year": 2019, "month": 3, "date": 17, "hours": 18}, {"year": 2019, "month": 3, "date": 17, "hours": 21},
                  {"year": 2019, "month": 3, "date": 18, "hours": 3}, {"year": 2019, "month": 3, "date": 18, "hours": 6}, {"year": 2019, "month": 3, "date": 18, "hours": 9}, {"year": 2019, "month": 3, "date": 18, "hours": 12}, {"year": 2019, "month": 3, "date": 18, "hours": 15}, {"year": 2019, "month": 3, "date": 18, "hours": 18}, {"year": 2019, "month": 3, "date": 18, "hours": 21},
                  {"year": 2019, "month": 3, "date": 19, "hours": 3}, {"year": 2019, "month": 3, "date": 19, "hours": 6}, {"year": 2019, "month": 3, "date": 19, "hours": 9}, {"year": 2019, "month": 3, "date": 19, "hours": 12}, {"year": 2019, "month": 3, "date": 19, "hours": 15}, {"year": 2019, "month": 3, "date": 19, "hours": 18}, {"year": 2019, "month": 3, "date": 19, "hours": 21},
                  {"year": 2019, "month": 3, "date": 20, "hours": 3}, {"year": 2019, "month": 3, "date": 20, "hours": 6}, {"year": 2019, "month": 3, "date": 20, "hours": 9}, {"year": 2019, "month": 3, "date": 20, "hours": 12}, {"year": 2019, "month": 3, "date": 20, "hours": 15}, {"year": 2019, "month": 3, "date": 20, "hours": 18}, {"year": 2019, "month": 3, "date": 20, "hours": 21},
                  {"year": 2019, "month": 3, "date": 21, "hours": 3}, {"year": 2019, "month": 3, "date": 21, "hours": 6}, {"year": 2019, "month": 3, "date": 21, "hours": 9}, {"year": 2019, "month": 3, "date": 21, "hours": 12}, {"year": 2019, "month": 3, "date": 21, "hours": 15}, {"year": 2019, "month": 3, "date": 21, "hours": 18}, {"year": 2019, "month": 3, "date": 21, "hours": 21},
                  {"year": 2019, "month": 3, "date": 22, "hours": 3}, {"year": 2019, "month": 3, "date": 22, "hours": 6}, {"year": 2019, "month": 3, "date": 22, "hours": 9}, {"year": 2019, "month": 3, "date": 22, "hours": 12}, {"year": 2019, "month": 3, "date": 22, "hours": 15}, {"year": 2019, "month": 3, "date": 22, "hours": 18}, {"year": 2019, "month": 3, "date": 22, "hours": 21},
                  {"year": 2019, "month": 3, "date": 23, "hours": 3}, {"year": 2019, "month": 3, "date": 23, "hours": 6}, {"year": 2019, "month": 3, "date": 23, "hours": 9}, {"year": 2019, "month": 3, "date": 23, "hours": 12}, {"year": 2019, "month": 3, "date": 23, "hours": 15}, {"year": 2019, "month": 3, "date": 23, "hours": 18}, {"year": 2019, "month": 3, "date": 23, "hours": 21},
                  {"year": 2019, "month": 3, "date": 24, "hours": 3}, {"year": 2019, "month": 3, "date": 24, "hours": 6}
                ]}},
            "y": {"field": "v", "type": "quantitative", "scale": {"domain": [55, 75], "zero": false},
              "axis": {"orient": "right", "values": [55, 60, 65, 70, 75], "labels": false, "grid": false, "tickSize": -6, "title": null}}
          }
        },
        {
          "mark": {"type": "line", "strokeOpacity": 0},
          "encoding": {
            "x": {"field": "t", "type": "temporal",
              "scale": {"domain": [{"year": 2019, "month": 3, "date": 14, "hours": 12}, {"year": 2019, "month": 3, "date": 24, "hours": 8, "minutes": 45}]},
              "axis": {"orient": "top", "labels": false, "tickSize": -4, "grid": false, "title": null,
                "values": [
                  {"year": 2019, "month": 3, "date": 14, "hours": 15}, {"year": 2019, "month": 3, "date": 14, "hours": 18}, {"year": 2019, "month": 3, "date": 14, "hours": 21},
                  {"year": 2019, "month": 3, "date": 15, "hours": 3}, {"year": 2019, "month": 3, "date": 15, "hours": 6}, {"year": 2019, "month": 3, "date": 15, "hours": 9}, {"year": 2019, "month": 3, "date": 15, "hours": 12}, {"year": 2019, "month": 3, "date": 15, "hours": 15}, {"year": 2019, "month": 3, "date": 15, "hours": 18}, {"year": 2019, "month": 3, "date": 15, "hours": 21},
                  {"year": 2019, "month": 3, "date": 16, "hours": 3}, {"year": 2019, "month": 3, "date": 16, "hours": 6}, {"year": 2019, "month": 3, "date": 16, "hours": 9}, {"year": 2019, "month": 3, "date": 16, "hours": 12}, {"year": 2019, "month": 3, "date": 16, "hours": 15}, {"year": 2019, "month": 3, "date": 16, "hours": 18}, {"year": 2019, "month": 3, "date": 16, "hours": 21},
                  {"year": 2019, "month": 3, "date": 17, "hours": 3}, {"year": 2019, "month": 3, "date": 17, "hours": 6}, {"year": 2019, "month": 3, "date": 17, "hours": 9}, {"year": 2019, "month": 3, "date": 17, "hours": 12}, {"year": 2019, "month": 3, "date": 17, "hours": 15}, {"year": 2019, "month": 3, "date": 17, "hours": 18}, {"year": 2019, "month": 3, "date": 17, "hours": 21},
                  {"year": 2019, "month": 3, "date": 18, "hours": 3}, {"year": 2019, "month": 3, "date": 18, "hours": 6}, {"year": 2019, "month": 3, "date": 18, "hours": 9}, {"year": 2019, "month": 3, "date": 18, "hours": 12}, {"year": 2019, "month": 3, "date": 18, "hours": 15}, {"year": 2019, "month": 3, "date": 18, "hours": 18}, {"year": 2019, "month": 3, "date": 18, "hours": 21},
                  {"year": 2019, "month": 3, "date": 19, "hours": 3}, {"year": 2019, "month": 3, "date": 19, "hours": 6}, {"year": 2019, "month": 3, "date": 19, "hours": 9}, {"year": 2019, "month": 3, "date": 19, "hours": 12}, {"year": 2019, "month": 3, "date": 19, "hours": 15}, {"year": 2019, "month": 3, "date": 19, "hours": 18}, {"year": 2019, "month": 3, "date": 19, "hours": 21},
                  {"year": 2019, "month": 3, "date": 20, "hours": 3}, {"year": 2019, "month": 3, "date": 20, "hours": 6}, {"year": 2019, "month": 3, "date": 20, "hours": 9}, {"year": 2019, "month": 3, "date": 20, "hours": 12}, {"year": 2019, "month": 3, "date": 20, "hours": 15}, {"year": 2019, "month": 3, "date": 20, "hours": 18}, {"year": 2019, "month": 3, "date": 20, "hours": 21},
                  {"year": 2019, "month": 3, "date": 21, "hours": 3}, {"year": 2019, "month": 3, "date": 21, "hours": 6}, {"year": 2019, "month": 3, "date": 21, "hours": 9}, {"year": 2019, "month": 3, "date": 21, "hours": 12}, {"year": 2019, "month": 3, "date": 21, "hours": 15}, {"year": 2019, "month": 3, "date": 21, "hours": 18}, {"year": 2019, "month": 3, "date": 21, "hours": 21},
                  {"year": 2019, "month": 3, "date": 22, "hours": 3}, {"year": 2019, "month": 3, "date": 22, "hours": 6}, {"year": 2019, "month": 3, "date": 22, "hours": 9}, {"year": 2019, "month": 3, "date": 22, "hours": 12}, {"year": 2019, "month": 3, "date": 22, "hours": 15}, {"year": 2019, "month": 3, "date": 22, "hours": 18}, {"year": 2019, "month": 3, "date": 22, "hours": 21},
                  {"year": 2019, "month": 3, "date": 23, "hours": 3}, {"year": 2019, "month": 3, "date": 23, "hours": 6}, {"year": 2019, "month": 3, "date": 23, "hours": 9}, {"year": 2019, "month": 3, "date": 23, "hours": 12}, {"year": 2019, "month": 3, "date": 23, "hours": 15}, {"year": 2019, "month": 3, "date": 23, "hours": 18}, {"year": 2019, "month": 3, "date": 23, "hours": 21},
                  {"year": 2019, "month": 3, "date": 24, "hours": 3}, {"year": 2019, "month": 3, "date": 24, "hours": 6}
                ]}},
            "y": {"field": "v", "type": "quantitative", "scale": {"domain": [55, 75], "zero": false}, "axis": null}
          }
        },
        {
          "mark": {"type": "line", "strokeOpacity": 0},
          "encoding": {
            "x": {"field": "t", "type": "temporal",
              "scale": {"domain": [{"year": 2019, "month": 3, "date": 14, "hours": 12}, {"year": 2019, "month": 3, "date": 24, "hours": 8, "minutes": 45}]},
              "axis": {"orient": "top", "labels": false, "tickSize": -6, "grid": false, "title": null,
                "values": [
                  {"year": 2019, "month": 3, "date": 15}, {"year": 2019, "month": 3, "date": 16}, {"year": 2019, "month": 3, "date": 17}, {"year": 2019, "month": 3, "date": 18}, {"year": 2019, "month": 3, "date": 19},
                  {"year": 2019, "month": 3, "date": 20}, {"year": 2019, "month": 3, "date": 21}, {"year": 2019, "month": 3, "date": 22}, {"year": 2019, "month": 3, "date": 23}, {"year": 2019, "month": 3, "date": 24}
                ]}},
            "y": {"field": "v", "type": "quantitative", "scale": {"domain": [55, 75], "zero": false}, "axis": null}
          }
        },
        {
          "mark": {"type": "line", "color": "#ff0000", "strokeWidth": 1.5},
          "encoding": {
            "x": {"field": "t", "type": "temporal",
              "scale": {"domain": [{"year": 2019, "month": 3, "date": 14, "hours": 12}, {"year": 2019, "month": 3, "date": 24, "hours": 8, "minutes": 45}]},
              "axis": {"orient": "bottom", "format": "%d-%m", "tickSize": -6, "grid": true, "gridColor": "#dadada", "labelPadding": 16, "title": "Date (label at 00:00)", "titlePadding": 6,
                "values": [
                  {"year": 2019, "month": 3, "date": 15}, {"year": 2019, "month": 3, "date": 16}, {"year": 2019, "month": 3, "date": 17}, {"year": 2019, "month": 3, "date": 18}, {"year": 2019, "month": 3, "date": 19},
                  {"year": 2019, "month": 3, "date": 20}, {"year": 2019, "month": 3, "date": 21}, {"year": 2019, "month": 3, "date": 22}, {"year": 2019, "month": 3, "date": 23}, {"year": 2019, "month": 3, "date": 24}
                ]}},
            "y": {"field": "v", "type": "quantitative", "scale": {"domain": [55, 75], "zero": false},
              "axis": {"orient": "left", "values": [55, 60, 65, 70, 75], "tickSize": -6, "grid": true, "gridColor": "#dadada", "labelPadding": 14, "title": "Humidity (%)", "titlePadding": 4}}
          }
        }
      ],
      "resolve": {"axis": {"x": "independent", "y": "independent"}}
    }
  ]
}
